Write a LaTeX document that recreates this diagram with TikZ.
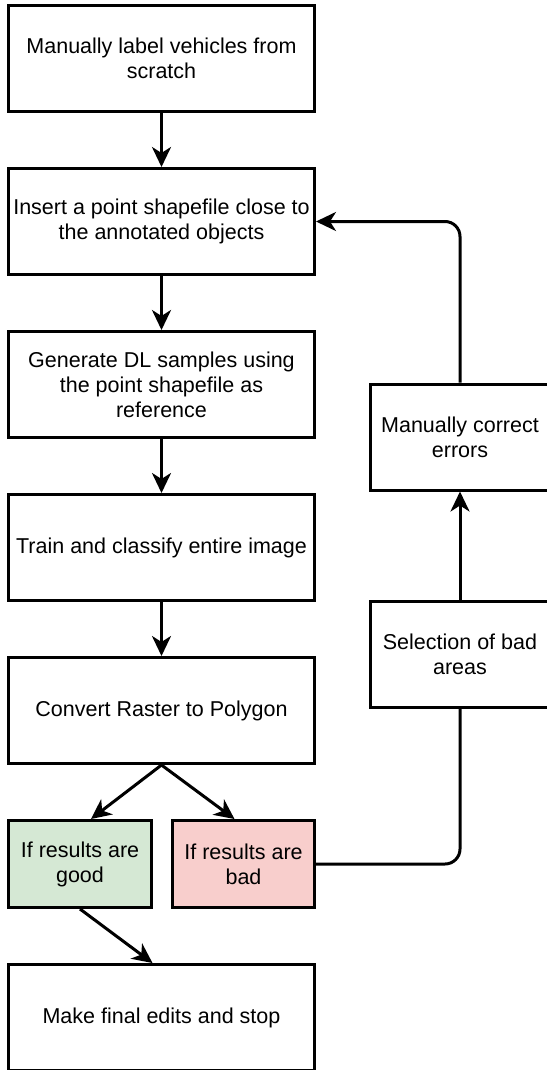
\documentclass[tikz,border=0pt]{standalone}
\usepackage{fontspec}
\setmainfont{Liberation Sans}
\usetikzlibrary{arrows.meta,positioning}

\begin{document}
\begin{tikzpicture}
[x=1pt,y=-1pt,
line width=3pt,
stage/.style={draw,rectangle,minimum width=306pt,minimum height=106pt,
  align=center,inner sep=2pt,font=\fontsize{21.5}{25}\selectfont},
half/.style={stage,minimum width=143pt,minimum height=87pt},
side/.style={stage,minimum width=179pt},
flow/.style={-{Stealth[length=20pt,width=19pt,inset=6pt]}}]
\useasboundingbox (0,0) rectangle (546,1070);
\node [stage] (label) at (161.5,58.5) {Manually label vehicles from\\scratch};
\node [stage,below=54pt of label] (insert) {Insert a point shapefile close to\\the annotated objects};
\node [stage,below=54pt of insert] (samples) {Generate DL samples using\\the point shapefile as\\reference};
\node [stage,below=54pt of samples] (train) {Train and classify entire image};
\node [stage,below=54pt of train] (convert) {Convert Raster to Polygon};
\node [half,fill={rgb,255:red,213;green,232;blue,212},below right=54pt and 0pt of convert.south west] (good) {If results are\\good};
\node [half,fill={rgb,255:red,248;green,206;blue,204},minimum width=142pt,below left=54pt and 0pt of convert.south east] (bad) {If results are\\bad};
\node [stage,below right=54pt and 0pt of good.south west] (final) {Make final edits and stop};
\node [side] (fix) at (460,437) {Manually correct\\errors};
\node [side,below=108pt of fix] (select) {Selection of bad\\areas};
\draw [flow] (label) -- (insert);
\draw [flow] (insert) -- (samples);
\draw [flow] (samples) -- (train);
\draw [flow] (train) -- (convert);
\draw [flow] (convert.south) -- ([xshift=11pt]good.north);
\draw [flow] (convert.south) -- ([xshift=-9pt]bad.north);
\draw [flow] (good.south) -- ([xshift=-9pt]final.north);
% loop back for bad results
\draw [rounded corners=15pt] (bad.east) -| (select.south);
\draw [flow] (select) -- (fix);
\draw [flow,rounded corners=15pt] (fix.north) |- (insert.east);
\end{tikzpicture}
\end{document}
